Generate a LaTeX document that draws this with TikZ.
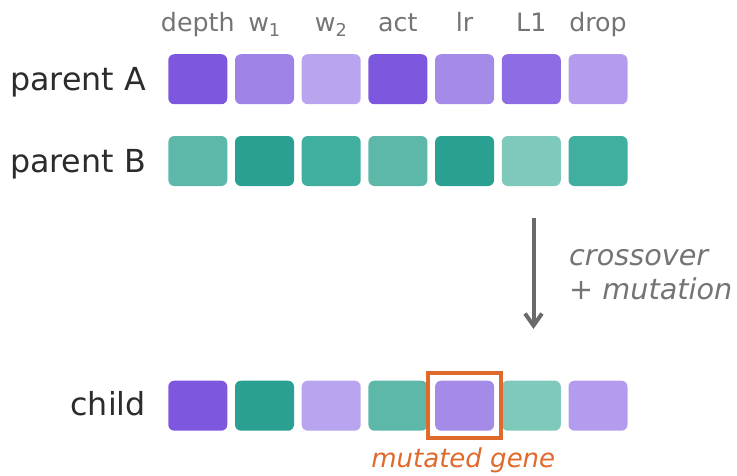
\documentclass[tikz,border=0pt]{standalone}
\usepackage{fontspec}
\setmainfont{DejaVu Sans}
\usetikzlibrary{arrows.meta}

% gene colours
\definecolor{pA1}{HTML}{7E57DF}
\definecolor{pA2}{HTML}{9E82E8}
\definecolor{pA3}{HTML}{B9A4F0}
\definecolor{pA4}{HTML}{7E57DF}
\definecolor{pA5}{HTML}{A58BE8}
\definecolor{pA6}{HTML}{8E6CE3}
\definecolor{pA7}{HTML}{B39CEE}
\definecolor{pB1}{HTML}{5DB8AA}
\definecolor{pB2}{HTML}{2AA093}
\definecolor{pB3}{HTML}{41AF9F}
\definecolor{pB4}{HTML}{5DB8AA}
\definecolor{pB5}{HTML}{2AA093}
\definecolor{pB6}{HTML}{7FC9BB}
\definecolor{pB7}{HTML}{41AF9F}
\definecolor{labelgrey}{HTML}{747474}
\definecolor{textdark}{HTML}{2C2C2C}
\definecolor{arrowgrey}{HTML}{6A6A6A}
\definecolor{mutorange}{HTML}{E06A2C}

\begin{document}
\begin{tikzpicture}[x=1pt, y=-1pt,
  gene/.style={rectangle, rounded corners=6pt, minimum width=59pt,
    minimum height=50pt, inner sep=0pt, draw=none, fill=#1},
  rowlabel/.style={anchor=base east, inner sep=0pt, text=textdark,
    font=\fontsize{31.7}{38}\selectfont},
  collabel/.style={anchor=base, inner sep=0pt, text=labelgrey,
    font=\fontsize{25.3}{30}\selectfont},
  notelabel/.style={anchor=base west, inner sep=0pt, text=labelgrey,
    font=\fontsize{28.7}{34}\selectfont\itshape},
  mutbox/.style={rectangle, draw=mutorange, line width=4pt, fill=none,
    minimum width=72.5pt, minimum height=64.5pt, inner sep=0pt},
  flow/.style={draw=arrowgrey, line width=4pt,
    -{Straight Barb[length=12pt, width=17pt]}}
]
\useasboundingbox (0,0) rectangle (737,475);

% column headers
\foreach \name [count=\i] in {depth, w\textsubscript{1}, w\textsubscript{2}, act, lr, L1, drop}
  \node[collabel] (h\i) at ({197.8+66.7*(\i-1)}, 31.7) {\name};

% row labels
\node[rowlabel] (labA) at (146, 90) {parent A};
\node[rowlabel] (labB) at (146, 172) {parent B};
\node[rowlabel] (labC) at (146, 415.5) {child};

% parent chromosomes
\foreach \i in {1,...,7} {
  \node[gene=pA\i] (a\i) at ({197.8+66.7*(\i-1)}, 79.2) {};
  \node[gene=pB\i] (b\i) at ({197.8+66.7*(\i-1)}, 161) {};
}

% child chromosome
\foreach \c [count=\i] in {pA1, pB2, pA3, pB4, pA5, pB6, pA7}
  \node[gene=\c] (c\i) at ({197.8+66.7*(\i-1)}, 405.7) {};

% mutated gene highlight
\node[mutbox] (mut) at (c5) {};
\node[anchor=base, inner sep=0pt, text=mutorange,
  font=\fontsize{26}{31}\selectfont\itshape] (mutlab) at (463.3, 467.5) {mutated gene};

% crossover arrow
\coordinate (arrtop) at (533.5, 218);
\coordinate (arrbot) at (533.5, 329);
\draw[flow] (arrtop) -- (arrbot);
\node[notelabel] (note1) at (569, 265.5) {crossover};
\node[notelabel] (note2) at (569, 299) {+ mutation};
\end{tikzpicture}
\end{document}
